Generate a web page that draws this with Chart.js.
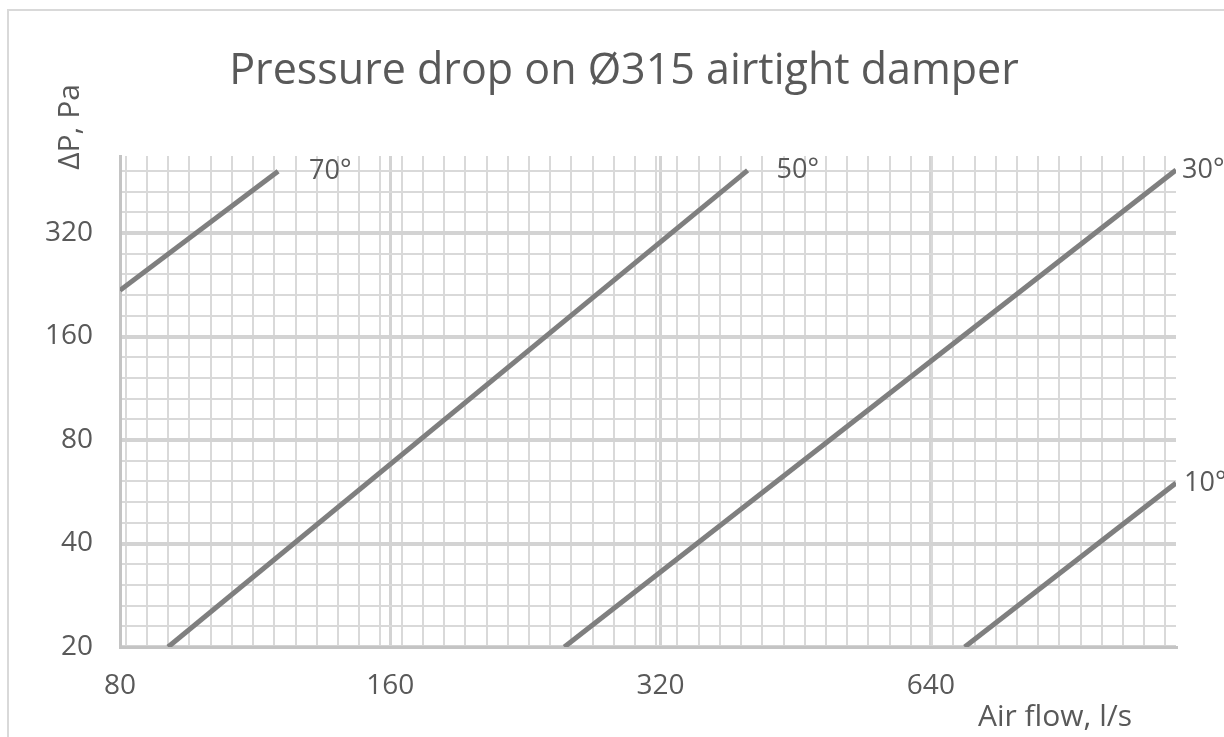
<!DOCTYPE html>
<html>
<head>
<meta charset="utf-8">
<script src="https://cdn.jsdelivr.net/npm/chart.js@4.4.1/dist/chart.umd.min.js"></script>
<style>
  html, body { margin: 0; padding: 0; background: #ffffff; }
  #wrap { width: 1224px; height: 737px; position: relative; }
</style>
</head>
<body>
<div id="wrap"><canvas id="c"></canvas></div>
<script>
// ---- Data ----
const chartTitle = 'Pressure drop on Ø315 airtight damper';
const xAxisTitle = 'Air flow, l/s';
const yAxisTitle = 'ΔP, Pa';

const flowTickLabels = [80, 160, 320, 640];        // l/s (log2 axis)
const pressureTickLabels = [20, 40, 80, 160, 320]; // Pa (log2 axis)

const seriesNames = ['10°', '30°', '50°', '70°'];
const flow10 = [698, 1200];
const dp10   = [20, 60];
const flow30 = [250, 1200];
const dp30   = [20, 488];
const flow50 = [90.5, 400];
const dp50   = [20, 487];
const flow70 = [80, 120];
const dp70   = [218, 484];

const flowMin = 80, flowMax = 1200;
const dpMin = 20, dpMax = 536;

// grid subdivision (in octaves)
const xMinorStartOct = 0.0215;
const xMinorStepOct = 0.0785;
const yMinorPerOctave = 5;

// ---- Styles ----
const textColor = '#595959';
const lineColor = '#7f7f7f';
const labelGapPx = [8, 6, 29, 31];
const FONT = "'Open Sans', 'Noto Sans', 'DejaVu Sans', sans-serif";

function toPoints(xs, ys) { return xs.map((x, i) => ({ x: x, y: ys[i] })); }
const seriesData = [toPoints(flow10, dp10), toPoints(flow30, dp30), toPoints(flow50, dp50), toPoints(flow70, dp70)];

function isMajor(v, majors) { return majors.some(m => Math.abs(m - v) / m < 1e-6); }

const xGridValues = (() => {
  const vals = flowTickLabels.slice();
  for (let k = 0; ; k++) {
    const v = flowMin * Math.pow(2, xMinorStartOct + k * xMinorStepOct);
    if (v >= flowMax) break;
    vals.push(v);
  }
  return vals.sort((a, b) => a - b);
})();
const yGridValues = (() => {
  const vals = [];
  for (let k = 0; ; k++) {
    const v = dpMin * Math.pow(2, k / yMinorPerOctave);
    if (v > dpMax) break;
    vals.push(v);
  }
  return vals;
})();

const overlay = {
  id: 'overlay',
  beforeDraw(chart) {
    const c = chart.ctx;
    c.save();
    c.fillStyle = '#ffffff';
    c.fillRect(0, 0, chart.width, chart.height);
    c.strokeStyle = '#d9d9d9';
    c.lineWidth = 2;
    c.beginPath();
    c.moveTo(8, chart.height);
    c.lineTo(8, 10);
    c.lineTo(chart.width, 10);
    c.stroke();
    c.restore();
  },
  afterDatasetsDraw(chart) {
    const c = chart.ctx;
    c.save();
    c.fillStyle = textColor;
    c.font = '27px ' + FONT;
    c.textBaseline = 'middle';
    c.textAlign = 'left';
    chart.data.datasets.forEach((ds, i) => {
      const meta = chart.getDatasetMeta(i);
      const pt = meta.data[meta.data.length - 1];
      c.fillText(ds.label, pt.x + labelGapPx[i], pt.y);
    });
    c.restore();
  },
  afterDraw(chart) {
    const c = chart.ctx;
    c.save();
    c.fillStyle = textColor;
    // title
    c.font = '43px ' + FONT;
    c.textAlign = 'center';
    c.textBaseline = 'alphabetic';
    c.fillText(chartTitle, 624, 84);
    // x axis title
    c.font = '30px ' + FONT;
    c.textAlign = 'right';
    c.textBaseline = 'middle';
    c.fillText(xAxisTitle, 1132, 717);
    // y axis title
    c.translate(70, 127);
    c.rotate(-Math.PI / 2);
    c.textAlign = 'center';
    c.fillText(yAxisTitle, 0, 0);
    c.restore();
  }
};

new Chart(document.getElementById('c'), {
  type: 'line',
  data: {
    datasets: seriesNames.map((name, i) => ({
      label: name,
      data: seriesData[i],
      borderColor: lineColor,
      borderWidth: 5,
      pointRadius: 0,
      fill: false,
      tension: 0
    }))
  },
  options: {
    responsive: true,
    maintainAspectRatio: false,
    animation: false,
    layout: { padding: { left: 0, top: 156, right: 48, bottom: 0 } },
    plugins: { legend: { display: false }, tooltip: { enabled: false }, title: { display: false } },
    scales: {
      x: {
        type: 'logarithmic',
        min: flowMin,
        max: flowMax,
        afterBuildTicks(s) { s.ticks = xGridValues.map(v => ({ value: v, major: isMajor(v, flowTickLabels) })); },
        afterFit(s) { s.height = 90; },
        ticks: {
          autoSkip: false,
          maxRotation: 0,
          padding: 22,
          color: textColor,
          font: { family: FONT, size: 28 },
          callback(v) { return isMajor(v, flowTickLabels) ? String(Math.round(v)) : ''; }
        },
        grid: {
          drawTicks: false,
          color: ctx => (ctx.tick && isMajor(ctx.tick.value, flowTickLabels)) ? '#d3d3d3' : '#d9d9d9',
          lineWidth: ctx => (ctx.tick && isMajor(ctx.tick.value, flowTickLabels)) ? 3 : 2
        },
        border: { display: true, color: '#c4c4c4', width: 3 }
      },
      y: {
        type: 'logarithmic',
        min: dpMin,
        max: dpMax,
        afterBuildTicks(s) { s.ticks = yGridValues.map(v => ({ value: v, major: isMajor(v, pressureTickLabels) })); },
        afterFit(s) { s.width = 120; },
        ticks: {
          autoSkip: false,
          padding: 27,
          color: textColor,
          font: { family: FONT, size: 28 },
          callback(v) { return isMajor(v, pressureTickLabels) ? String(Math.round(v)) : ''; }
        },
        grid: {
          drawTicks: false,
          color: ctx => (ctx.tick && isMajor(ctx.tick.value, pressureTickLabels)) ? '#d3d3d3' : '#d9d9d9',
          lineWidth: ctx => (ctx.tick && isMajor(ctx.tick.value, pressureTickLabels)) ? 4 : 2
        },
        border: { display: true, color: '#c4c4c4', width: 3 }
      }
    }
  },
  plugins: [overlay]
});
</script>
</body>
</html>
